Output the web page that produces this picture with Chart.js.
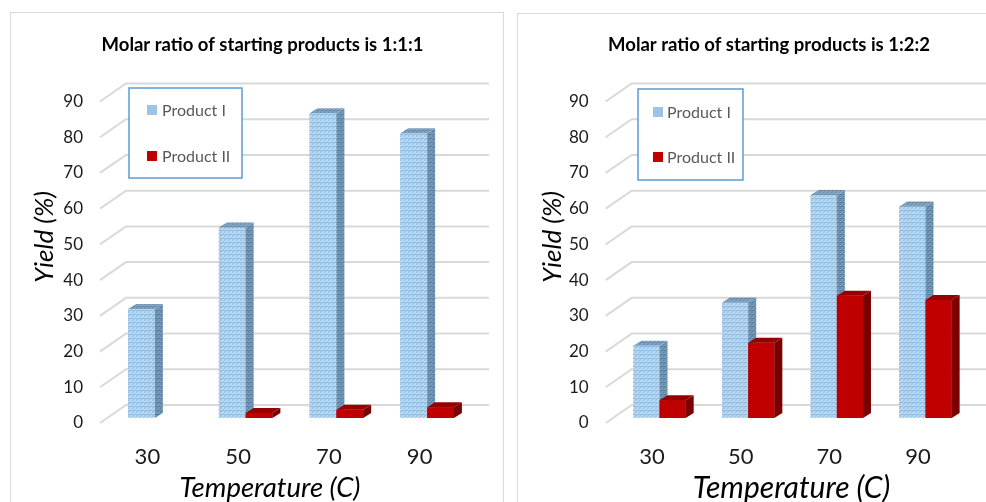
<!DOCTYPE html>
<html>
<head>
<meta charset="utf-8">
<script src="https://cdn.jsdelivr.net/npm/chart.js@4.4.1/dist/chart.umd.min.js"></script>
<style>
  html, body { margin: 0; padding: 0; background: #fff; }
  body { width: 986px; height: 502px; position: relative; overflow: hidden; }
  .frame { position: absolute; border: 1px solid #D9D9D9; box-sizing: border-box; }
  canvas { position: absolute; }
</style>
</head>
<body>
<div class="frame" style="left:10px;top:12px;width:494px;height:520px"></div>
<div class="frame" style="left:517px;top:13px;width:500px;height:520px"></div>
<canvas id="ratio111" width="493" height="490" style="left:10px;top:12px"></canvas>
<canvas id="ratio122" width="469" height="490" style="left:517px;top:12px"></canvas>
<script>
// Yield of the two products versus reaction temperature, for two molar ratios
const temperatures = ['30', '50', '70', '90'];
const yieldTicks = [0, 10, 20, 30, 40, 50, 60, 70, 80, 90];
const seriesNames = ['Product I', 'Product II'];

const productI_111 = [30.5, 53.3, 85.3, 79.7];
const productII_111 = [0, 1.4, 2.3, 3.0];

const productI_122 = [20.2, 32.3, 62.4, 59.2];
const productII_122 = [5.0, 21.1, 34.2, 33.0];

const FONT = "Lato, 'Open Sans', sans-serif";

// Small repeating tile that gives the bars their speckled texture
function texture(base, light, dark) {
  const tile = document.createElement('canvas');
  tile.width = 4; tile.height = 4;
  const g = tile.getContext('2d');
  g.fillStyle = base; g.fillRect(0, 0, 4, 4);
  g.fillStyle = light;
  [[0, 0], [2, 0], [1, 1], [3, 2], [0, 2], [2, 3]].forEach(([x, y]) => g.fillRect(x, y, 1, 1));
  g.fillStyle = dark;
  [[3, 0], [1, 3], [3, 3]].forEach(([x, y]) => g.fillRect(x, y, 1, 1));
  return g.createPattern(tile, 'repeat');
}

const blueFront = texture('#9CC6E8', '#D8EAF8', '#6CA5D5');
const blueSide = texture('#5E87AA', '#8DAECB', '#466B8C');
const blueTop = texture('#6E92B3', '#9AB6CF', '#557898');

const seriesLook = [
  { front: blueFront, side: blueSide, top: blueTop, swatch: '#9DC3E6' },
  { front: '#C00000', side: '#7A0000', top: '#960000', swatch: '#C00000' }
];

function poly(ctx, pts, fill) {
  ctx.beginPath();
  ctx.moveTo(pts[0][0], pts[0][1]);
  for (let i = 1; i < pts.length; i++) ctx.lineTo(pts[i][0], pts[i][1]);
  ctx.closePath();
  ctx.fillStyle = fill;
  ctx.fill();
}

// Pseudo-3D: back wall grid, depth shift of the bars, side and top faces,
// plus the framed legend and the text around the plot.
const box3d = {
  id: 'box3d',
  beforeDatasetsDraw(chart, args, o) {
    const { ctx, chartArea, scales: { y } } = chart;
    ctx.save();
    ctx.strokeStyle = '#D9D9D9';
    ctx.lineWidth = 2;
    y.ticks.forEach(t => {
      const py = y.getPixelForValue(t.value);
      ctx.beginPath();
      ctx.moveTo(chartArea.left - 2, py);
      ctx.lineTo(chartArea.left + o.wall.dx, py - o.wall.dy);
      ctx.lineTo(chartArea.right + o.wall.dx, py - o.wall.dy);
      ctx.stroke();
    });
    ctx.restore();
    ctx.save();
    ctx.translate(o.shift.x, -o.shift.y);
  },
  afterDatasetsDraw(chart, args, o) {
    const { ctx } = chart;
    const dx = o.depth.dx, dy = o.depth.dy;
    const metas = chart.data.datasets.map((ds, k) => chart.getDatasetMeta(k));
    // per category, left bar first so the right bar's front covers its side face
    temperatures.forEach((_, i) => {
      metas.forEach((meta, k) => {
        const value = chart.data.datasets[k].data[i];
        if (!value) return;
        const bar = meta.data[i];
        bar.draw(ctx);
        const { x, y, base, width } = bar.getProps(['x', 'y', 'base', 'width'], true);
        const x0 = x - width / 2, x1 = x + width / 2;
        const look = seriesLook[k];
        poly(ctx, [[x1, y], [x1 + dx, y - dy], [x1 + dx, base - dy], [x1, base]], look.side);
        poly(ctx, [[x0, y], [x0 + dx, y - dy], [x1 + dx, y - dy], [x1, y]], look.top);
      });
    });
    ctx.restore();
  },
  afterDraw(chart, args, o) {
    const { ctx } = chart;
    ctx.save();
    // chart title
    ctx.fillStyle = '#000';
    ctx.textAlign = 'center';
    ctx.textBaseline = 'middle';
    ctx.font = `bold ${o.title.size}px ${FONT}`;
    ctx.fillText(o.title.text, o.title.x, o.title.y);
    // axis titles
    ctx.font = `italic ${o.xTitle.size}px ${FONT}`;
    ctx.fillText(o.xTitle.text, o.xTitle.x, o.xTitle.y);
    ctx.save();
    ctx.translate(o.yTitle.x, o.yTitle.y);
    ctx.rotate(-Math.PI / 2);
    ctx.font = `italic ${o.yTitle.size}px ${FONT}`;
    ctx.fillText(o.yTitle.text, 0, 0);
    ctx.restore();
    // legend
    const L = o.legend;
    ctx.fillStyle = '#fff';
    ctx.fillRect(L.x, L.y, L.w, L.h);
    ctx.strokeStyle = '#5B9BD5';
    ctx.lineWidth = 1.5;
    ctx.strokeRect(L.x, L.y, L.w, L.h);
    ctx.font = `${L.size}px ${FONT}`;
    ctx.textAlign = 'left';
    chart.data.datasets.forEach((ds, i) => {
      const cy = L.rows[i];
      ctx.fillStyle = seriesLook[i].swatch;
      ctx.fillRect(L.sx, cy - 5, 10, 10);
      ctx.fillStyle = '#595959';
      ctx.fillText(ds.label, L.tx, cy + 1);
    });
    ctx.restore();
  }
};

function makeChart(id, seriesI, seriesII, frame) {
  return new Chart(document.getElementById(id), {
    type: 'bar',
    data: {
      labels: temperatures,
      datasets: [
        { label: seriesNames[0], data: seriesI, backgroundColor: seriesLook[0].front },
        { label: seriesNames[1], data: seriesII, backgroundColor: seriesLook[1].front }
      ]
    },
    options: {
      responsive: false,
      animation: false,
      events: [],
      layout: { padding: { top: frame.top, right: frame.right, left: 0, bottom: 0 } },
      datasets: { bar: { categoryPercentage: 0.59, barPercentage: 1, clip: false } },
      scales: {
        x: {
          grid: { display: false, drawTicks: false },
          border: { display: false },
          ticks: { color: '#1a1a1a', font: { family: FONT, size: 22 }, padding: frame.xPad },
          afterFit(s) { s.height = frame.xHeight; }
        },
        y: {
          min: 0,
          max: 90,
          grid: { display: false, drawTicks: false },
          border: { display: false },
          afterBuildTicks(s) { s.ticks = yieldTicks.map(v => ({ value: v })); },
          ticks: { color: '#1a1a1a', font: { family: FONT, size: 17 }, padding: 19 },
          afterFit(s) { s.width = frame.left; }
        }
      },
      plugins: {
        legend: { display: false },
        tooltip: { enabled: false },
        title: { display: false },
        box3d: frame.look
      }
    },
    plugins: [box3d]
  });
}

makeChart('ratio111', productI_111, productII_111, {
  top: 89.5, right: 38, left: 92, xHeight: 79, xPad: 21,
  look: {
    wall: { dx: 24, dy: 18 }, shift: { x: 7.5, y: 5 }, depth: { dx: 8, dy: 5 },
    title: { text: 'Molar ratio of starting products is 1:1:1', x: 262.5 - 10, y: 33, size: 18.5 },
    xTitle: { text: 'Temperature (C)', x: 270 - 10, y: 476, size: 27.5 },
    yTitle: { text: 'Yield (%)', x: 35, y: 225, size: 26 },
    legend: { x: 119, y: 76, w: 113, h: 90, size: 16, sx: 137, tx: 152, rows: [98, 144] }
  }
});

makeChart('ratio122', productI_122, productII_122, {
  top: 89.5, right: 23.7, left: 90.7, xHeight: 79, xPad: 21,
  look: {
    wall: { dx: 24, dy: 18 }, shift: { x: 7.5, y: 5 }, depth: { dx: 8, dy: 5 },
    title: { text: 'Molar ratio of starting products is 1:2:2', x: 769 - 517, y: 33, size: 18.5 },
    xTitle: { text: 'Temperature (C)', x: 791.5 - 517, y: 476, size: 30 },
    yTitle: { text: 'Yield (%)', x: 36, y: 225, size: 26 },
    legend: { x: 121, y: 77, w: 105, h: 91, size: 16, sx: 136, tx: 150, rows: [100, 145] }
  }
});
</script>
</body>
</html>
